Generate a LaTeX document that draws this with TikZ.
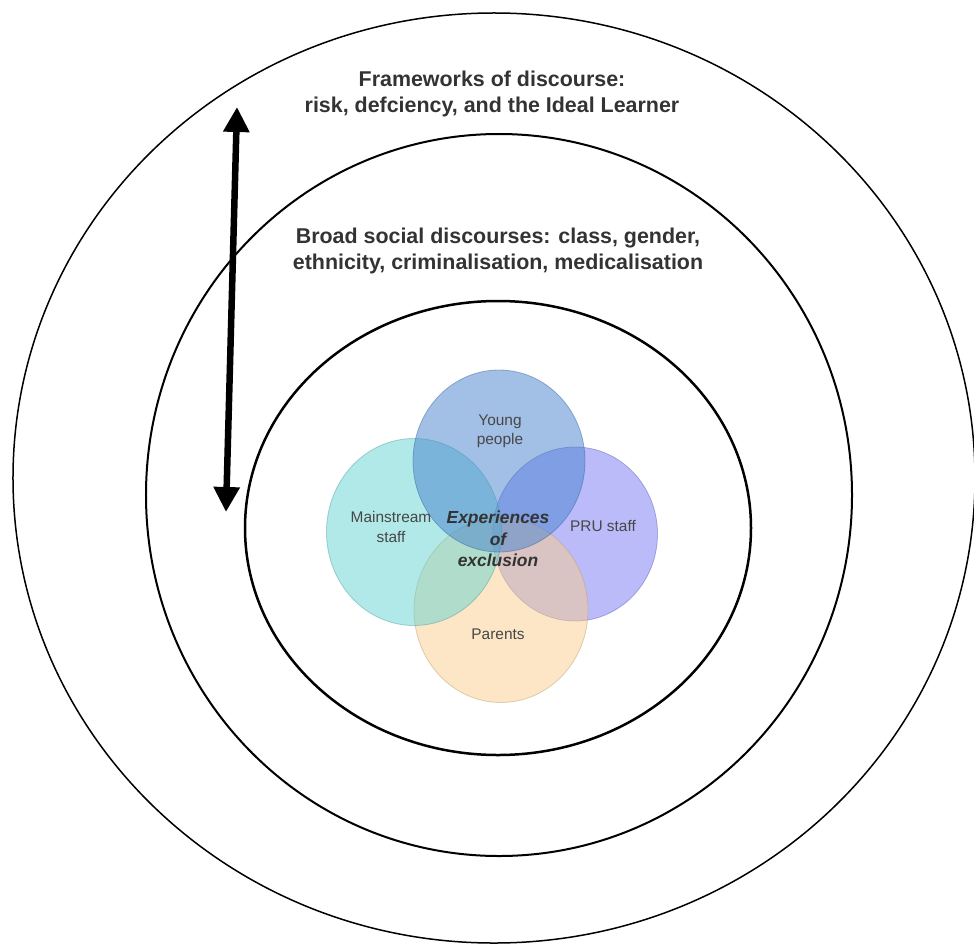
\documentclass[tikz,border=0pt]{standalone}
\usepackage{fontspec}
\setmainfont{Liberation Sans}
\usetikzlibrary{shapes.geometric}
\usetikzlibrary{arrows.meta}

\definecolor{youngcol}{RGB}{70,130,205}
\definecolor{mainstreamcol}{RGB}{100,210,210}
\definecolor{prucol}{RGB}{120,120,245}
\definecolor{parentscol}{RGB}{250,205,140}
\definecolor{textgrey}{RGB}{51,51,51}

\begin{document}
\begin{tikzpicture}[
    x=1bp, y=-1bp,
    ring/.style={draw=black},
    vennset/.style={ellipse, draw=#1!75!black, draw opacity=0.45, fill=#1, fill opacity=0.5, line width=0.8bp, inner sep=0pt},
    headtext/.style={align=center, inner sep=0pt, text=textgrey, font=\bfseries\fontsize{21.5}{25.5}\selectfont},
    setlabel/.style={align=center, inner sep=0pt, text=textgrey!90, font=\fontsize{15.5}{19.5}\selectfont},
    coretext/.style={align=center, inner sep=0pt, text=textgrey, font=\bfseries\itshape\fontsize{17.5}{21.5}\selectfont},
    dblarrow/.style={line width=6.5bp, {Triangle[width=25bp,length=25bp]}-{Triangle[width=25bp,length=25bp]}},
    ]

    \useasboundingbox (0,0) rectangle (974,945);

    %Rings
    \draw[ring, line width=1.5bp] (494,478) ellipse [x radius=481bp, y radius=465bp];
    \draw[ring, line width=2bp]   (499,495) ellipse [x radius=353bp, y radius=361bp];
    \draw[ring, line width=2.5bp] (498,528) ellipse [x radius=253bp, y radius=227bp];

    %Sets
    \node[vennset=prucol, minimum width=165bp, minimum height=174bp] (pru) at (575,534) {};
    \node[vennset=parentscol, minimum width=174bp, minimum height=185bp] (parents) at (501,610) {};
    \node[vennset=mainstreamcol, minimum width=175bp, minimum height=187bp] (mainstream) at (414,532) {};
    \node[vennset=youngcol, minimum width=172bp, minimum height=182bp] (young) at (499,461) {};

    %Texts
    \node[headtext] (frameworks) at (492,94) {Frameworks of discourse:\\risk, defciency, and the Ideal Learner};
    \node[headtext] (broad) at (498,251) {Broad social discourses: class, gender,\\ethnicity, criminalisation, medicalisation};
    \node[setlabel] (younglabel) at (500,431) {Young\\people};
    \node[setlabel] (mainstreamlabel) at (391,527) {Mainstream\\staff};
    \node[setlabel] (prulabel) at (603,526) {PRU staff};
    \node[setlabel] (parentslabel) at (498,634) {Parents};
    \node[coretext] (core) at (498,539) {Experiences\\of\\exclusion};

    %Arrow
    \coordinate (arrowtop) at (237,107);
    \coordinate (arrowbottom) at (226,512);
    \draw[dblarrow] (arrowtop) -- (arrowbottom);

\end{tikzpicture}
\end{document}
